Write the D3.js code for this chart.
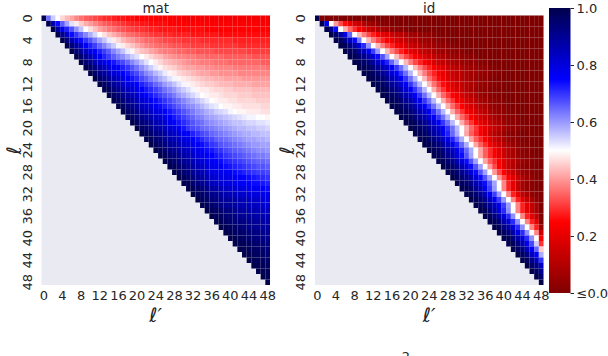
<!DOCTYPE html>
<html>
<head>
<meta charset="utf-8">
<script src="https://cdn.jsdelivr.net/npm/d3@7"></script>
<style>
  body { margin: 0; background: #fff; }
  text { font-family: "DejaVu Sans", sans-serif; }
</style>
</head>
<body>
<div id="chart"></div>
<script>
const width = 608;
const height = 356;

// layer indices (rows = l, columns = l')
const layers = [0,1,2,3,4,5,6,7,8,9,10,11,12,13,14,15,16,17,18,19,20,21,22,23,24,
  25,26,27,28,29,30,31,32,33,34,35,36,37,38,39,40,41,42,43,44,45,46,47,48];
const tickVals = [0,4,8,12,16,20,24,28,32,36,40,44,48];
const cbarTicks = [0, 0.2, 0.4, 0.6, 0.8, 1.0];
const cbarLabels = ["≤0.0", "0.2", "0.4", "0.6", "0.8", "1.0"];
const titles = ["mat", "id"];

// upper triangle, row i holds columns i..48 (values in %)
const matRows = [
  [100,64,55,50,46,43,41,38,36,34,33,32,31,29,29,28,27,27,26,26,25,25,25,25,24,24,24,24,24,24,23,23,23,23,23,23,23,23,23,23,23,23,23,23,23,23,23,23,23],
  [100,86,74,66,59,53,48,45,42,40,38,36,34,33,32,31,30,29,28,28,27,27,26,26,26,26,25,25,25,25,25,25,25,25,24,24,24,24,24,24,24,24,24,24,24,24,24,24],
  [100,89,78,72,67,61,56,50,47,44,41,39,37,36,34,33,32,31,30,30,29,28,28,27,27,27,27,26,26,26,26,26,26,25,25,25,25,25,25,25,25,25,25,25,25,25,25],
  [100,91,82,74,70,66,62,58,54,50,47,44,42,40,38,36,35,34,33,32,31,30,30,29,29,28,28,28,28,27,27,27,27,27,27,26,26,26,26,26,26,26,26,26,26,26],
  [100,93,86,79,74,70,67,63,59,56,52,48,46,43,41,40,38,37,35,35,34,33,32,32,31,31,30,30,30,30,29,29,29,29,29,29,29,28,28,28,28,28,28,28,28],
  [100,94,88,82,76,72,69,65,62,58,55,51,48,46,44,42,40,38,37,36,35,35,34,33,33,32,32,31,31,31,31,30,30,30,30,30,30,29,29,29,29,29,29,29],
  [100,94,89,84,79,75,72,69,66,62,59,56,52,49,46,44,43,41,40,38,37,37,36,35,35,34,34,33,33,33,33,32,32,32,32,32,32,32,31,31,31,31,31],
  [100,95,90,85,80,75,72,69,66,63,61,58,55,53,50,48,46,44,43,41,40,39,38,38,37,37,36,36,35,35,35,35,34,34,34,34,34,34,33,33,33,33],
  [100,95,91,86,82,78,75,73,70,68,65,62,59,56,53,50,48,46,44,43,42,41,40,39,38,38,37,37,37,36,36,36,35,35,35,35,35,35,35,34,34],
  [100,96,92,88,84,80,77,75,72,70,67,64,61,58,55,52,49,47,46,45,43,42,41,41,40,40,39,39,38,38,38,38,37,37,37,37,37,37,37,36],
  [100,96,92,88,85,81,78,75,73,70,68,65,62,60,57,55,52,49,48,46,45,44,43,42,41,41,40,40,39,39,39,39,38,38,38,38,38,38,38],
  [100,96,93,89,86,82,79,75,73,71,68,66,63,61,58,56,53,51,49,48,47,46,45,44,43,43,42,42,41,41,41,41,40,40,40,40,40,40],
  [100,97,93,90,86,83,80,77,75,72,70,68,65,63,60,58,56,53,51,49,48,47,46,45,45,44,43,43,43,42,42,42,42,41,41,41,41],
  [100,97,94,90,87,84,81,78,75,73,71,69,67,64,62,60,57,55,53,51,49,48,48,47,46,46,45,45,44,44,44,44,43,43,43,43],
  [100,97,94,91,88,85,82,79,75,73,71,69,67,65,63,60,58,56,54,52,50,49,48,48,47,46,46,46,45,45,45,44,44,44,44],
  [100,97,94,91,88,85,82,79,76,74,72,70,68,66,64,62,60,58,56,54,52,50,49,48,48,47,47,46,46,46,46,45,45,45],
  [100,97,94,91,88,85,82,79,76,74,72,70,68,66,64,62,61,59,57,55,53,52,50,49,49,48,48,47,47,47,47,46,46],
  [100,97,94,91,88,85,83,80,78,75,73,71,69,67,65,63,61,60,58,57,55,54,53,51,50,49,49,48,48,48,47,47],
  [100,97,94,92,89,86,84,81,78,75,73,71,69,67,65,63,62,60,59,58,57,56,55,54,53,52,51,51,50,50,49],
  [100,97,94,92,89,86,84,81,78,75,73,71,69,67,65,64,62,61,60,59,58,57,56,56,55,54,54,53,53,52],
  [100,97,95,92,89,87,84,82,79,76,73,70,68,67,65,64,63,62,61,60,59,58,57,57,56,56,55,55,54],
  [100,98,95,93,90,88,85,83,80,77,75,72,70,68,67,65,64,63,62,61,60,59,58,58,57,57,56,56],
  [100,98,95,93,90,88,85,83,80,78,75,73,71,69,68,66,65,64,63,62,61,60,59,59,58,58,57],
  [100,98,95,93,90,88,85,83,80,78,76,74,72,70,69,67,66,65,64,63,62,61,60,60,59,59],
  [100,98,95,93,90,88,85,83,80,78,76,74,73,71,70,68,67,66,65,64,63,62,61,61,60],
  [100,98,95,93,90,88,85,83,80,78,76,75,73,72,70,69,68,67,66,65,64,63,63,62],
  [100,98,95,93,90,88,85,83,80,78,77,75,74,72,71,70,69,68,67,66,65,65,64],
  [100,98,95,93,90,88,85,83,80,78,77,76,74,73,72,71,70,69,68,67,67,66],
  [100,98,95,93,90,88,85,83,80,78,78,77,76,74,73,72,71,70,69,69,68],
  [100,98,95,93,90,88,85,83,80,79,79,78,77,76,75,74,73,72,71,70],
  [100,98,95,93,90,88,85,83,81,80,79,78,77,76,75,74,74,73,72],
  [100,98,96,94,91,89,87,85,83,82,81,80,79,78,77,76,75,74],
  [100,98,96,94,92,90,88,86,85,84,83,82,81,80,79,78,77],
  [100,98,96,94,92,90,89,88,87,86,85,84,83,82,80,79],
  [100,98,96,94,92,90,89,88,87,86,85,84,83,82,81],
  [100,98,96,95,93,92,90,89,88,87,86,85,84,83],
  [100,98,97,95,94,92,91,90,89,88,87,86,85],
  [100,98,97,95,94,93,92,91,90,89,88,87],
  [100,99,97,96,95,93,92,91,90,89,88],
  [100,99,97,96,95,94,93,92,91,90],
  [100,99,98,96,95,94,93,92,91],
  [100,99,98,97,96,95,94,93],
  [100,99,98,97,96,95,94],
  [100,99,98,97,96,95],
  [100,99,98,97,96],
  [100,99,98,97],
  [100,99,98],
  [100,99],
  [100]
];

const idRows = [
  [100,0,0,0,0,0,0,0,0,0,0,0,0,0,0,0,0,0,0,0,0,0,0,0,0,0,0,0,0,0,0,0,0,0,0,0,0,0,0,0,0,0,0,0,0,0,0,0,0],
  [100,78,50,40,32,26,21,17,13,10,7,5,3,2,1,0,0,0,0,0,0,0,0,0,0,0,0,0,0,0,0,0,0,0,0,0,0,0,0,0,0,0,0,0,0,0,0,0],
  [100,92,74,50,42,35,29,24,20,16,13,10,8,6,4,3,2,1,0,0,0,0,0,0,0,0,0,0,0,0,0,0,0,0,0,0,0,0,0,0,0,0,0,0,0,0,0],
  [100,96,88,78,65,50,43,37,32,28,24,21,18,15,13,11,9,7,6,5,4,3,2,1,0,0,0,0,0,0,0,0,0,0,0,0,0,0,0,0,0,0,0,0,0,0],
  [100,97,91,84,74,63,50,43,37,32,28,24,21,18,15,13,11,9,7,6,5,4,3,2,1,0,0,0,0,0,0,0,0,0,0,0,0,0,0,0,0,0,0,0,0],
  [100,98,93,87,80,71,61,50,43,37,32,28,24,21,18,15,13,11,9,7,6,5,4,3,2,1,0,0,0,0,0,0,0,0,0,0,0,0,0,0,0,0,0,0],
  [100,98,95,90,84,77,69,60,50,43,37,32,28,24,21,18,15,13,11,9,7,6,5,4,3,2,1,0,0,0,0,0,0,0,0,0,0,0,0,0,0,0,0],
  [100,98,95,91,86,80,74,67,59,50,43,37,32,28,24,21,18,15,13,11,9,7,6,5,4,3,2,1,0,0,0,0,0,0,0,0,0,0,0,0,0,0],
  [100,99,96,93,88,84,78,72,65,58,50,43,37,32,28,24,21,18,15,13,11,9,7,6,5,4,3,2,1,0,0,0,0,0,0,0,0,0,0,0,0],
  [100,99,97,94,90,86,81,76,70,64,57,50,43,37,32,28,24,21,18,15,13,11,9,7,6,5,4,3,2,1,0,0,0,0,0,0,0,0,0,0],
  [100,99,97,94,90,86,81,76,70,64,57,50,43,37,32,28,24,21,18,15,13,11,9,7,6,5,4,3,2,1,0,0,0,0,0,0,0,0,0],
  [100,99,97,94,90,86,81,76,70,64,57,50,43,36,31,26,22,19,16,13,11,9,7,5,4,3,2,1,0,0,0,0,0,0,0,0,0,0],
  [100,99,97,94,90,86,81,76,70,64,57,50,43,36,31,26,22,19,16,13,11,9,7,5,4,3,2,1,0,0,0,0,0,0,0,0,0],
  [100,99,97,94,90,86,81,76,70,64,57,50,42,35,30,25,21,17,14,11,8,6,4,3,2,1,0,0,0,0,0,0,0,0,0,0],
  [100,99,97,94,90,86,81,76,70,64,57,50,42,35,30,25,21,17,14,11,8,6,4,3,2,1,0,0,0,0,0,0,0,0,0],
  [100,99,97,94,90,86,81,76,70,64,57,50,42,35,30,25,21,17,14,11,8,6,4,3,2,1,0,0,0,0,0,0,0,0],
  [100,99,97,94,90,86,81,76,70,64,57,50,42,35,30,25,21,17,14,11,8,6,4,3,2,1,0,0,0,0,0,0,0],
  [100,99,97,94,90,86,81,76,70,64,57,50,42,35,30,25,21,17,14,11,8,6,4,3,2,1,0,0,0,0,0,0],
  [100,99,97,94,90,86,81,76,70,64,57,50,42,35,30,25,21,17,14,11,8,6,4,3,2,1,0,0,0,0,0],
  [100,99,97,94,90,86,81,76,70,64,57,50,42,35,30,25,21,17,14,11,8,6,4,3,2,1,0,0,0,0],
  [100,99,97,94,90,86,81,76,70,64,57,50,42,35,30,25,21,17,14,11,8,6,4,3,2,1,0,0,0],
  [100,99,96,93,88,84,78,72,65,58,50,41,34,29,24,19,15,11,8,5,3,2,1,0,0,0,0,0],
  [100,99,96,93,88,84,78,72,65,58,50,41,34,29,24,19,15,11,8,5,3,2,1,0,0,0,0],
  [100,99,96,93,88,84,78,72,65,58,50,41,34,29,24,19,15,11,8,5,3,2,1,0,0,0],
  [100,99,96,93,88,84,78,72,65,58,50,41,34,29,24,19,15,11,8,5,3,2,1,0,0],
  [100,98,95,91,86,80,74,67,59,50,41,34,29,24,19,15,11,8,5,3,2,1,0,0],
  [100,98,95,91,86,80,74,67,59,50,41,34,29,24,19,15,11,8,5,3,2,1,0],
  [100,98,95,91,86,80,74,67,59,50,40,32,25,19,14,10,6,4,2,1,0,0],
  [100,98,95,91,86,80,74,67,59,50,40,32,25,19,14,10,6,4,2,1,0],
  [100,98,95,91,86,80,74,67,59,50,40,32,25,19,14,10,6,4,2,0],
  [100,98,95,91,86,80,74,67,59,50,38,28,20,13,8,4,2,1,0],
  [100,98,95,90,84,77,69,60,50,38,28,20,13,8,4,2,1,0],
  [100,98,95,90,84,77,69,60,50,38,28,20,13,8,4,2,0],
  [100,98,95,90,84,77,69,60,50,38,28,20,13,8,4,0],
  [100,98,95,90,84,77,69,60,50,38,28,20,13,8,0],
  [100,98,93,87,80,71,61,50,38,28,20,13,8,0],
  [100,98,93,87,80,71,61,50,38,28,20,13,0],
  [100,98,93,87,80,71,61,50,38,28,20,0],
  [100,98,93,87,80,71,61,50,38,28,5],
  [100,98,93,87,80,71,61,50,38,15],
  [100,98,93,87,80,71,61,50,25],
  [100,98,93,86,78,68,55,30],
  [100,97,92,85,76,65,45],
  [100,97,92,85,76,58],
  [100,97,92,85,70],
  [100,97,92,83],
  [100,97,90],
  [100,95],
  [100]
];

const panelX = [41.5, 315];
const panelW = 228.5;
const plotTop = 15.5;
const plotBottom = 285;
const textColor = "#262626";

// seismic_r
const color = d3.scaleLinear()
    .domain([0, 0.25, 0.5, 0.75, 1])
    .range(["#800000", "#ff0000", "#ffffff", "#0000ff", "#00004d"])
    .clamp(true);

const svg = d3.select("#chart").append("svg")
    .attr("width", width)
    .attr("height", height)
    .style("display", "block");

svg.append("rect").attr("width", width).attr("height", height).attr("fill", "#fff");

[matRows, idRows].forEach((rows, p) => {
    const x0 = panelX[p];
    const x = d3.scaleBand().domain(layers).range([x0, x0 + panelW]);
    const y = d3.scaleBand().domain(layers).range([plotTop, plotBottom]);

    const g = svg.append("g");

    // masked area shows the axes face
    g.append("rect")
        .attr("x", x0).attr("y", plotTop)
        .attr("width", panelW).attr("height", plotBottom - plotTop)
        .attr("fill", "#eaeaf2");

    const cells = [];
    rows.forEach((row, i) => row.forEach((v, k) => {
        if (i + k < layers.length) cells.push({i: i, j: i + k, v: v / 100});
    }));

    g.selectAll("rect.cell")
        .data(cells)
        .join("rect")
            .attr("class", "cell")
            .attr("x", d => x(d.j))
            .attr("y", d => y(d.i))
            .attr("width", x.bandwidth())
            .attr("height", y.bandwidth())
            .attr("fill", d => color(d.v));

    // x axis
    const xAxis = g.append("g")
        .attr("transform", `translate(0,${plotBottom})`)
        .call(d3.axisBottom(x).tickValues(tickVals).tickSize(0).tickPadding(6));
    xAxis.select(".domain").remove();
    xAxis.attr("font-size", 13).attr("font-family", "DejaVu Sans").style("color", textColor);

    // y axis, labels turned vertical
    const yAxis = g.append("g")
        .attr("transform", `translate(${x0},0)`)
        .call(d3.axisLeft(y).tickValues(tickVals).tickSize(0));
    yAxis.select(".domain").remove();
    yAxis.attr("font-size", 13).attr("font-family", "DejaVu Sans").style("color", textColor);
    yAxis.selectAll("text")
        .attr("x", null)
        .attr("dy", null)
        .attr("text-anchor", "middle")
        .attr("transform", "translate(-10,0) rotate(-90)");

    // title
    g.append("text")
        .attr("x", x0 + panelW / 2)
        .attr("y", 13)
        .attr("text-anchor", "middle")
        .attr("font-size", 13.5)
        .attr("fill", textColor)
        .text(titles[p]);

    // axis labels
    g.append("text")
        .attr("x", x0 + panelW / 2)
        .attr("y", 322)
        .attr("text-anchor", "middle")
        .attr("font-size", 20)
        .attr("font-style", "italic")
        .attr("fill", textColor)
        .text("ℓ′");

    g.append("text")
        .attr("transform", `translate(${x0 - 21},${(plotTop + plotBottom) / 2}) rotate(-90)`)
        .attr("text-anchor", "middle")
        .attr("font-size", 20)
        .attr("font-style", "italic")
        .attr("fill", textColor)
        .text("ℓ");
});

// colorbar
const cbX = 549, cbW = 21.5, cbTop = 8, cbBottom = 293;
const grad = svg.append("defs").append("linearGradient")
    .attr("id", "cbar")
    .attr("x1", 0).attr("y1", 1).attr("x2", 0).attr("y2", 0);
grad.selectAll("stop")
    .data(d3.range(0, 1.0001, 0.025))
    .join("stop")
        .attr("offset", d => d)
        .attr("stop-color", d => color(d));

svg.append("rect")
    .attr("x", cbX).attr("y", cbTop)
    .attr("width", cbW).attr("height", cbBottom - cbTop)
    .attr("fill", "url(#cbar)");

const cScale = d3.scaleLinear().domain([0, 1]).range([cbBottom, cbTop]);
const cAxis = svg.append("g")
    .attr("transform", `translate(${cbX + cbW},0)`)
    .call(d3.axisRight(cScale).tickValues(cbarTicks).tickSize(3.5).tickPadding(2.5)
        .tickFormat((d, i) => cbarLabels[i]));
cAxis.select(".domain").remove();
cAxis.attr("font-size", 13).attr("font-family", "DejaVu Sans").style("color", textColor);

// caption glyph cut by the bottom edge, as in the source
svg.append("text")
    .attr("x", 406)
    .attr("y", 361)
    .attr("text-anchor", "middle")
    .attr("font-size", 13)
    .attr("fill", textColor)
    .text("2");
</script>
</body>
</html>
